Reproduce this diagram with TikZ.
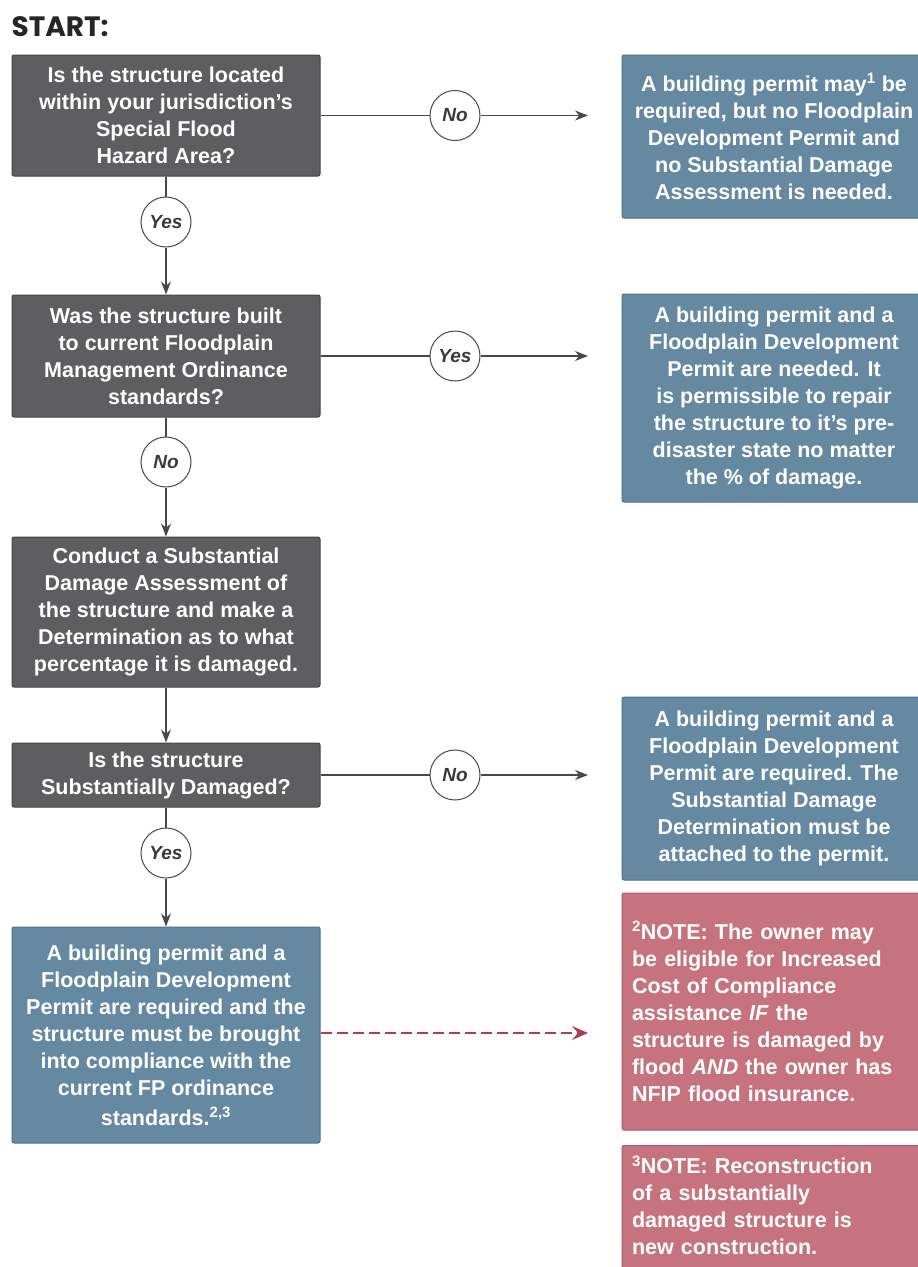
\documentclass[tikz,border=0pt]{standalone}
\usepackage{fontspec}
\setmainfont{Liberation Sans}
\newfontfamily\headfont{Poppins}
\usetikzlibrary{arrows.meta, positioning}
\usepackage{xcolor}
\definecolor{cGrey}{HTML}{5E5E60}
\definecolor{cGreyDark}{HTML}{444446}
\definecolor{cBlue}{HTML}{6489A1}
\definecolor{cBlueDark}{HTML}{4F728A}
\definecolor{cRose}{HTML}{C6737F}
\definecolor{cRoseDark}{HTML}{B2586A}
\definecolor{cLine}{HTML}{484848}
\definecolor{cDash}{HTML}{B03D52}

\begin{document}
\begin{tikzpicture}[x=1pt, y=-1pt,
  box/.style={draw=#1Dark, fill=#1, rounded corners=2pt, line width=1pt,
    minimum width=308pt, text=white, align=center, inner sep=4pt,
    font=\fontsize{21.5}{27}\selectfont\bfseries},
  qbox/.style={box=cGrey},
  abox/.style={box=cBlue, minimum width=304pt},
  nbox/.style={box=cRose, minimum width=304pt, align=left, text width=284pt,
    inner xsep=10pt},
  tag/.style={circle, draw=cLine, fill=white, line width=1pt,
    minimum size=50pt, inner sep=0pt, text=cLine!80!black,
    font=\fontsize{19}{20}\selectfont\bfseries\itshape},
  flow/.style={draw=cLine, line width=1.2pt},
  tip/.style={-{Stealth[length=13pt, width=10pt]}},
  hint/.style={draw=cDash, line width=2pt, dash pattern=on 11pt off 5pt,
    -{Stealth[length=16pt, width=14pt, inset=6pt]}}
]
  \useasboundingbox (0,0) rectangle (918,1267);

  \node[anchor=west, font=\headfont\fontsize{28}{30}\selectfont\bfseries,
    text=black!85] (start) at (8,27) {START:};

  % left column
  \node[qbox, minimum height=121pt] (q1) at (166,115.5) {%
    Is the structure located\\
    within your jurisdiction's\\
    Special Flood\\
    Hazard Area?};
  \node[tag] (t1) at (166,222) {Yes};
  \node[qbox, minimum height=122pt] (q2) at (166,356) {%
    Was the structure built\\
    to current Floodplain\\
    Management Ordinance\\
    standards?};
  \node[tag] (t2) at (166,462) {No};
  \node[qbox, minimum height=150pt] (q3) at (166,612) {%
    Conduct a Substantial\\
    Damage Assessment of\\
    the structure and make a\\
    Determination as to what\\
    percentage it is damaged.};
  \node[qbox, minimum height=64pt] (q4) at (166,775) {%
    Is the structure\\
    Substantially Damaged?};
  \node[tag] (t4) at (166,853) {Yes};
  \node[abox, minimum width=308pt, minimum height=216pt] (r5) at (166,1035) {%
    A building permit and a\\
    Floodplain Development\\
    Permit are required and the\\
    structure must be brought\\
    into compliance with the\\
    current FP ordinance\\[3pt]
    standards.\textsuperscript{2,3}};

  % right column
  \node[abox, minimum height=163pt] (a1) at (774,136.5) {%
    A building permit may\textsuperscript{1} be\\
    required, but no Floodplain\\
    Development Permit and\\
    no Substantial Damage\\
    Assessment is needed.};
  \node[abox, minimum height=208pt] (a2) at (774,398) {%
    A building permit and a\\
    Floodplain Development\\
    Permit are needed. It\\
    is permissible to repair\\
    the structure to it's pre-\\
    disaster state no matter\\
    the \% of damage.};
  \node[abox, minimum height=183pt] (a3) at (774,788.5) {%
    A building permit and a\\
    Floodplain Development\\
    Permit are required. The\\
    Substantial Damage\\
    Determination must be\\
    attached to the permit.};
  \node[nbox, minimum height=237pt] (n2) at (774,1011.5) {%
    \textsuperscript{2}NOTE: The owner may\\
    be eligible for Increased\\
    Cost of Compliance\\
    assistance \textit{IF} the\\
    structure is damaged by\\
    flood \textit{AND} the owner has\\
    NFIP flood insurance.};
  \node[nbox, anchor=north, inner ysep=10pt] (n3) at (774,1145) {%
    \textsuperscript{3}NOTE: Reconstruction\\
    of a substantially\\
    damaged structure is\\
    new construction.\\
    \strut};

  % side tags and free ends
  \node[tag] (s1) at (455,115.5) {No};
  \node[tag] (s2) at (455,356) {Yes};
  \node[tag] (s4) at (455,775) {No};
  \coordinate (e1) at (588,115.5);
  \coordinate (e2) at (588,356);
  \coordinate (e4) at (588,775);
  \coordinate (e5) at (588,1033);

  % connectors
  \draw[flow] (q1) -- (t1);
  \draw[flow, tip] (t1) -- (q2);
  \draw[flow] (q2) -- (t2);
  \draw[flow, tip] (t2) -- (q3);
  \draw[flow, tip] (q3) -- (q4);
  \draw[flow] (q4) -- (t4);
  \draw[flow, tip] (t4) -- (r5);
  \draw[flow] (q1) -- (s1);
  \draw[flow, tip] (s1) -- (e1);
  \draw[flow] (q2) -- (s2);
  \draw[flow, tip] (s2) -- (e2);
  \draw[flow] (q4) -- (s4);
  \draw[flow, tip] (s4) -- (e4);
  \draw[hint] (r5.east |- e5) -- (e5);
\end{tikzpicture}
\end{document}
